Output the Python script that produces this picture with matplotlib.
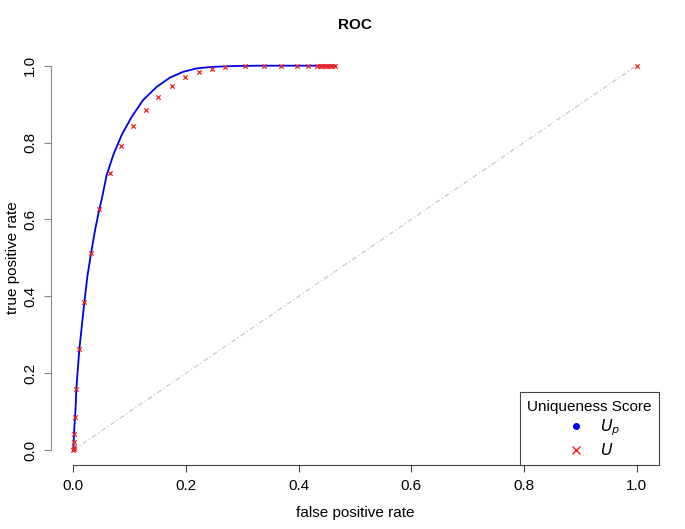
import matplotlib
matplotlib.use('agg')
import matplotlib.pyplot as plt
from matplotlib.lines import Line2D

plt.rcParams['font.family'] = ['Liberation Sans', 'DejaVu Sans']

# smooth curve (U_p)
up_fpr = [0.0, 0.0008, 0.0018, 0.003, 0.0043, 0.0053, 0.0078, 0.0106, 0.0149,
          0.0195, 0.0248, 0.0314, 0.0385, 0.046, 0.0503, 0.0592, 0.071, 0.0858,
          0.1036, 0.124, 0.148, 0.1715, 0.195, 0.219, 0.248, 0.284, 0.33, 0.40, 0.466]
up_tpr = [0.0, 0.03, 0.061, 0.085, 0.121, 0.160, 0.208, 0.262, 0.321,
          0.384, 0.451, 0.512, 0.572, 0.626, 0.652, 0.716, 0.768, 0.820,
          0.867, 0.911, 0.945, 0.969, 0.984, 0.993, 0.997, 0.999, 1.0, 1.0, 1.0]

# point estimates (U)
u_fpr = [0.0, 0.0005, 0.0008, 0.001, 0.0012, 0.003, 0.0053, 0.0106, 0.0195, 0.0314,
         0.046, 0.065, 0.085, 0.106, 0.1295, 0.151, 0.1756, 0.199, 0.2225, 0.246,
         0.270, 0.304, 0.338, 0.369, 0.397, 0.417, 0.432, 0.437, 0.441, 0.446,
         0.451, 0.456, 0.460, 0.465, 1.0]
u_tpr = [0.0, 0.003, 0.007, 0.02, 0.042, 0.085, 0.160, 0.262, 0.384, 0.512,
         0.626, 0.720, 0.791, 0.844, 0.885, 0.918, 0.947, 0.970, 0.984, 0.992,
         0.996, 1.0, 1.0, 1.0, 1.0, 1.0, 1.0, 1.0, 1.0, 1.0,
         1.0, 1.0, 1.0, 1.0, 1.0]

ticks = [0.0, 0.2, 0.4, 0.6, 0.8, 1.0]
tick_labels = ['0.0', '0.2', '0.4', '0.6', '0.8', '1.0']

fig = plt.figure(figsize=(6.85, 5.29), dpi=100)
ax = fig.add_axes([0.0742, 0.1202, 0.9623 - 0.0742, 0.9049 - 0.1202])

ax.plot([0, 1], [0, 1], color='#c8c8c8', linestyle=(0, (4, 2, 1, 2)), linewidth=0.9)
ax.plot(up_fpr, up_tpr, color='#0000ee', linewidth=1.3)
ax.scatter(u_fpr, u_tpr, marker='x', color='#ee2222', s=10, linewidths=0.9, zorder=3)

ax.set_xlim(-0.04, 1.04)
ax.set_ylim(-0.04, 1.04)
for s in ['top', 'right']:
    ax.spines[s].set_visible(False)
ax.spines['left'].set_bounds(0, 1)
ax.spines['bottom'].set_bounds(0, 1)
ax.spines['left'].set_color('#888888')
ax.spines['bottom'].set_color('#444444')
ax.set_xticks(ticks)
ax.set_xticklabels(tick_labels)
ax.set_yticks(ticks)
ax.set_yticklabels(tick_labels, rotation=90, va='center')
ax.tick_params(axis='both', direction='out', length=5, width=0.8, labelsize=11, pad=5)
ax.tick_params(axis='y', color='#888888')
ax.tick_params(axis='x', color='#444444')

ax.set_title('ROC', fontsize=11, fontweight='bold', pad=15)
ax.set_xlabel('false positive rate', fontsize=11, labelpad=9)
ax.set_ylabel('true positive rate', fontsize=11, labelpad=2)

handles = [Line2D([], [], marker='o', color='#0000ee', linestyle='none', markersize=4),
           Line2D([], [], marker='x', color='#ee2222', linestyle='none', markersize=6)]
leg = ax.legend(handles, ['$U_p$', '$U$'], title='Uniqueness Score', loc='lower right',
                bbox_to_anchor=(1.0, 0.0), borderaxespad=0, fontsize=11.5, title_fontsize=11,
                fancybox=False, framealpha=1, edgecolor='#444444', handletextpad=0.5,
                borderpad=0.45, labelspacing=0.25)
leg.get_frame().set_linewidth(0.8)

plt.savefig('out.png', dpi=100)
plt.close()
